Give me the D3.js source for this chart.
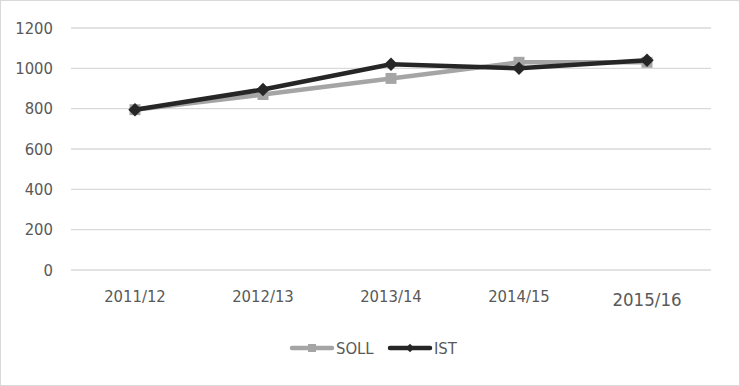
<!DOCTYPE html>
<html>
<head>
<meta charset="utf-8">
<script src="https://cdn.jsdelivr.net/npm/d3@7"></script>
<style>
  body { margin: 0; background: #fff; }
  text { font-family: "Liberation Sans Narrow", "DejaVu Sans Condensed", sans-serif; fill: #595959; }
</style>
</head>
<body>
<div id="chart"></div>
<script>
const years = ["2011/12", "2012/13", "2013/14", "2014/15", "2015/16"];
const soll = [795, 870, 950, 1030, 1030];
const ist = [795, 895, 1020, 1000, 1040];
const yTicks = [0, 200, 400, 600, 800, 1000, 1200];

const width = 740, height = 386;
const plotLeft = 71, plotRight = 711, plotTop = 28, plotBottom = 270;

const svg = d3.select("#chart")
  .append("svg")
  .attr("width", width)
  .attr("height", height);

svg.append("rect")
  .attr("x", 0.5).attr("y", 0.5)
  .attr("width", width - 1).attr("height", height - 1)
  .attr("fill", "#fff")
  .attr("stroke", "#d9d9d9");

const x = d3.scaleBand()
  .domain(years)
  .range([plotLeft, plotRight]);

const y = d3.scaleLinear()
  .domain([0, 1200])
  .range([plotBottom, plotTop]);

// grid lines
svg.selectAll("line.grid")
  .data(yTicks)
  .enter()
  .append("line")
  .attr("x1", plotLeft)
  .attr("x2", plotRight)
  .attr("y1", d => y(d))
  .attr("y2", d => y(d))
  .attr("stroke", "#d9d9d9")
  .attr("stroke-width", 1.3);

// y labels
svg.selectAll("text.ylab")
  .data(yTicks)
  .enter()
  .append("text")
  .attr("x", 53)
  .attr("y", d => y(d))
  .attr("dy", "0.35em")
  .attr("text-anchor", "end")
  .attr("font-size", 16.5)
  .text(d => d);

// x labels
svg.selectAll("text.xlab")
  .data(years)
  .enter()
  .append("text")
  .attr("x", d => x(d) + x.bandwidth() / 2)
  .attr("y", (d, i) => i === years.length - 1 ? 306 : 302)
  .attr("text-anchor", "middle")
  .attr("font-size", (d, i) => i === years.length - 1 ? 18.5 : 16.5)
  .text(d => d);

const cx = d => x(d) + x.bandwidth() / 2;
const line = d3.line()
  .x((d, i) => cx(years[i]))
  .y(d => y(d));

const square = d3.symbol().type(d3.symbolSquare).size(120);
const diamond = d3.symbol().type(d3.symbolSquare).size(90);

// SOLL
svg.append("path")
  .datum(soll)
  .attr("fill", "none")
  .attr("stroke", "#a5a5a5")
  .attr("stroke-width", 4.5)
  .attr("stroke-linejoin", "round")
  .attr("d", line);

svg.selectAll("path.soll")
  .data(soll)
  .enter()
  .append("path")
  .attr("transform", (d, i) => `translate(${cx(years[i])},${y(d)})`)
  .attr("d", square)
  .attr("fill", "#a5a5a5");

// IST
svg.append("path")
  .datum(ist)
  .attr("fill", "none")
  .attr("stroke", "#262626")
  .attr("stroke-width", 4.5)
  .attr("stroke-linejoin", "round")
  .attr("d", line);

svg.selectAll("path.ist")
  .data(ist)
  .enter()
  .append("path")
  .attr("transform", (d, i) => `translate(${cx(years[i])},${y(d)}) rotate(45)`)
  .attr("d", diamond)
  .attr("fill", "#262626");

// legend
const legend = [
  { name: "SOLL", color: "#a5a5a5", x: 290, rot: 0, size: 64 },
  { name: "IST", color: "#262626", x: 388, rot: 45, size: 36 }
];
const lg = svg.selectAll("g.legend")
  .data(legend)
  .enter()
  .append("g")
  .attr("transform", d => `translate(${d.x},348)`);

lg.append("line")
  .attr("x1", 2).attr("x2", 42)
  .attr("stroke", d => d.color)
  .attr("stroke-width", 4.5)
  .attr("stroke-linecap", "round");

lg.append("path")
  .attr("transform", d => `translate(22,0) rotate(${d.rot})`)
  .attr("d", d => d3.symbol().type(d3.symbolSquare).size(d.size)())
  .attr("fill", d => d.color);

lg.append("text")
  .attr("x", 46)
  .attr("dy", "0.35em")
  .attr("font-size", 16.5)
  .text(d => d.name);
</script>
</body>
</html>
